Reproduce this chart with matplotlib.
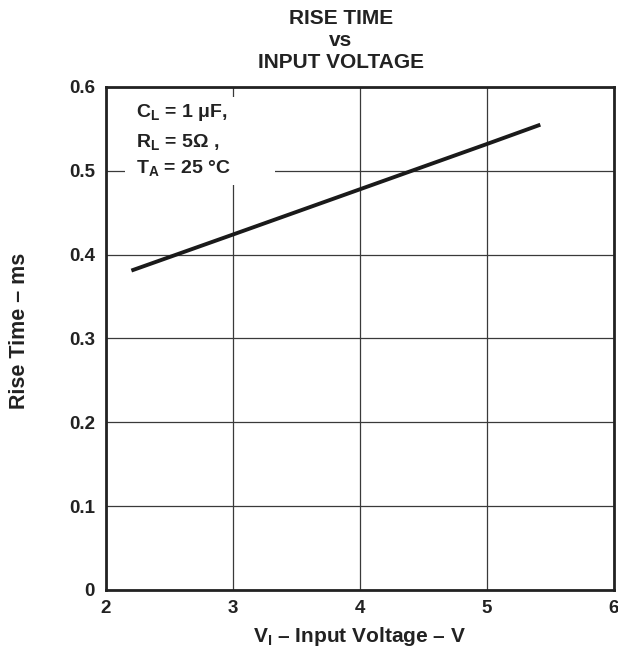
import matplotlib
matplotlib.use("Agg")
import matplotlib.pyplot as plt
from matplotlib.patches import Rectangle

plt.rcParams['font.family'] = ['Liberation Sans', 'DejaVu Sans']
plt.rcParams['font.weight'] = 'bold'
plt.rcParams['mathtext.fontset'] = 'custom'
plt.rcParams['mathtext.rm'] = 'Liberation Sans:bold'
plt.rcParams['mathtext.bf'] = 'Liberation Sans:bold'
plt.rcParams['mathtext.it'] = 'Liberation Sans:bold'

# Data
input_voltage = [2.2, 3.0, 4.0, 5.0, 5.42]
rise_time = [0.381, 0.424, 0.478, 0.532, 0.555]
x_ticks = [2, 3, 4, 5, 6]
y_ticks = [0, 0.1, 0.2, 0.3, 0.4, 0.5, 0.6]
x_tick_labels = ['2', '3', '4', '5', '6']
y_tick_labels = ['0', '0.1', '0.2', '0.3', '0.4', '0.5', '0.6']

fig = plt.figure(figsize=(6.18, 6.52), dpi=100)
ax = fig.add_axes([0.1715, 0.0951, 0.822, 0.7715])

ax.set_xlim(2, 6)
ax.set_ylim(0, 0.6)
ax.set_xticks(x_ticks)
ax.set_xticklabels(x_tick_labels)
ax.set_yticks(y_ticks)
ax.set_yticklabels(y_tick_labels)
ax.tick_params(length=0, labelsize=13.5, pad=8)
ax.tick_params(axis='x', pad=7)
for lab in ax.get_xticklabels() + ax.get_yticklabels():
    lab.set_fontweight('bold')
    lab.set_color('#222222')

ax.grid(True, color='#3a3a3a', linewidth=0.9)
ax.set_axisbelow(True)
for s in ax.spines.values():
    s.set_linewidth(2)
    s.set_color('#222222')
    s.set_zorder(5)

# white box behind annotation
ax.add_patch(Rectangle((2.15, 0.483), 1.18, 0.105, facecolor='white',
                       edgecolor='none', zorder=2))

ax.plot(input_voltage, rise_time, color='#1a1a1a', linewidth=2.8,
        solid_capstyle='butt', zorder=3)

txt_kw = dict(fontsize=14, fontweight='bold', color='#222222', zorder=4,
              va='center', ha='left')
ax.text(2.235, 0.569, r'C$_{\mathrm{L}}$ = 1 μF,', **txt_kw)
ax.text(2.235, 0.534, r'R$_{\mathrm{L}}$ = 5Ω ,', **txt_kw)
ax.text(2.235, 0.503, r'T$_{\mathrm{A}}$ = 25 °C', **txt_kw)

title_x = 341 / 618
fig.text(title_x, 1 - 19 / 652, 'RISE TIME', ha='center', va='center',
         fontsize=15, fontweight='bold', color='#222222')
fig.text(title_x, 1 - 41 / 652, 'vs', ha='center', va='center',
         fontsize=15, fontweight='bold', color='#222222')
fig.text(title_x, 1 - 62 / 652, 'INPUT VOLTAGE', ha='center', va='center',
         fontsize=15, fontweight='bold', color='#222222')

ax.set_xlabel(r'V$_{\mathrm{I}}$ – Input Voltage – V', fontsize=15,
              fontweight='bold', color='#222222', labelpad=6)
ax.set_ylabel('Rise Time – ms', fontsize=15.5, fontweight='bold',
              color='#222222')
ax.yaxis.set_label_coords(-0.149, 0.515)

fig.savefig('out.png', dpi=100)
